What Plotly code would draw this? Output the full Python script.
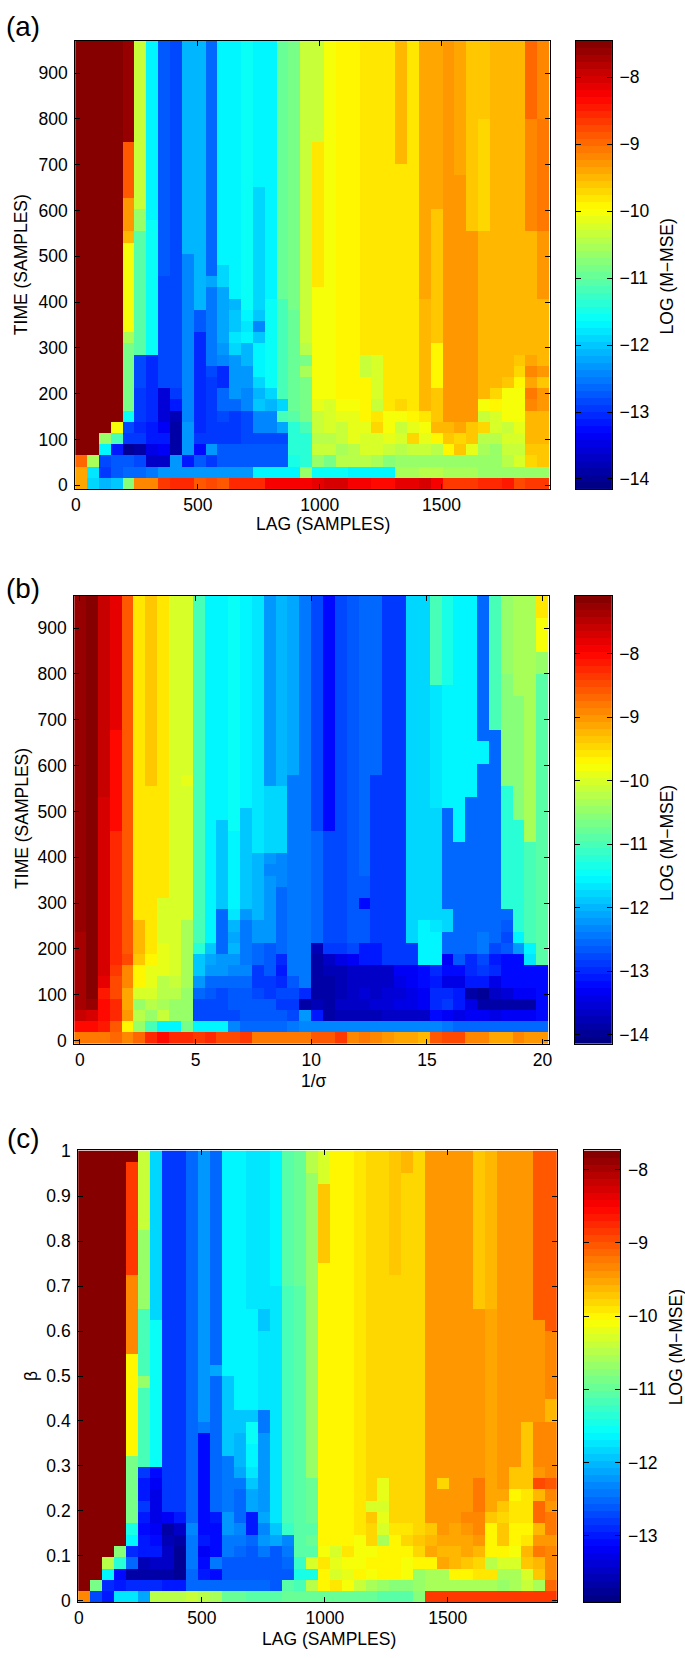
import plotly.graph_objects as go

W, H = 685, 1658
NR = 40

# Panel (a): columns left to right, values bottom to top as -log magnitude; last value extends to the top
A_COLS = [
 [9.4,9.4,9.0,7.5],
 [11.9,11.8,10.5,7.5],
 [12.1,13.0,12.8,11.7,10.6,7.5],
 [12.0,12.7,12.7,13.2,11.2,10.0,7.5],
 [10.8,12.6,12.7,13.95,12.9,12.8,11.6]+[10.9]*6+[10.5]+[10.0]*8+[9.5]+[9.3]*3+[8.9]*5+[7.6],
 [9.2,12.6,12.8,13.9,13.0,13.05,13.0,12.9,12.9]+[12.8]*3+[11.1]*11+[10.7]*2+[10.3],
 [9.2,12.55,13.7,13.5,13.2,13.2,13.1]+[13.1]*5+[11.6]*12+[11.7],
 [8.7,12.3,13.7,13.4,13.2,13.4,13.6,13.6,13.6]+[12.8]*10+[12.75],
 [8.6,12.3,12.3,13.9,13.9,13.9,13.8,13.2,12.9]+[12.8],
 [8.6,12.3,13.2,12.3,12.3,12.3]+[12.4]*15+[12.15],
 [8.9,12.3,12.7,13.3,13.0]+[13.1]*9+[12.7]*2+[12.15],
 [8.75,12.3,13.0,12.3]+[13.0]*6+[12.8]+[12.5]*3+[12.55]*4+[12.2]+[12.6],
 [8.9,12.3,12.7,12.7,13.0,13.0,12.8,12.6,12.6,13.1,13.1,12.4,12.3,12.2]+[12.2]*4+[11.95]*2+[11.7],
 [8.6,12.3,12.7,12.7,12.9,12.9,12.9,12.6,12.3,12.3,12.3,12.3,11.9,11.8,12.0,12.0,12.1,11.65],
 [8.6,12.3,12.7,12.7,12.8,12.8,12.8,12.4,12.4,12.3,12.3,12.1,12.1,11.7,11.75,11.7,11.6],
 [8.6,11.7,12.7,12.7,12.8,12.4,12.4,12.0,12.1,11.9,11.7,11.7,11.7,12.0,12.4,12.0,11.95]+[11.9]*10+[11.7],
 [8.25,11.65,12.7,12.7,12.8,12.4,12.4,12.1,11.9]+[11.6]*8+[11.7],
 [8.25,11.65,12.7,12.7,12.8,12.2,11.2,11.9]+[11.2]*9+[11.0],
 [8.25,11.65,11.5,11.4,11.4,11.4,11.1,11.0]+[11.0]*8+[10.9],
 [8.25,10.7,11.4,11.4,11.4,11.2,10.9,10.9,10.9,10.9,10.5,10.9,10.4,10.35],
 [8.1,11.6,10.7,10.3,10.4,10.3,10.3,10.1]+[10.0]*10+[9.8]*13+[10.35],
 [8.0,11.6,10.9,10.3,10.4,10.2,10.2,10.2,10.0,10.05],
 [8.05,11.6,10.45,10.5,10.3,10.3,10.1,10.0,9.95],
 [8.2,11.65,10.45,10.4,10.1,10.1,10.1,10.0,9.95,9.9],
 [8.25,11.65,10.45,10.2,10.2,10.1,9.9,9.9,9.9,9.9,10.3,10.3,9.8],
 [8.3,11.65,10.5,10.2,10.2,9.75,9.8,10.3,10.25,10.25,10.25,10.25,9.8],
 [8.3,11.65,10.75,10.35,10.15,10.0,10.0,9.8],
 [8.15,10.5,10.7,10.4,10.2,10.3,10.0,9.75]+[9.8]*21+[9.55],
 [8.1,10.5,10.7,10.35,9.7,10.1,9.95,9.8,9.85],
 [8.0,10.4,10.7,10.3,10.1,10.0,9.85]+[9.55]*10+[9.35],
 [8.2,10.4,10.6,10.45,9.9,9.45,9.6,9.6,9.6,9.9,9.9,9.9,9.9]+[9.6]*12+[9.35],
 [8.7,10.5,10.65,9.95,9.6,9.5,9.3],
 [8.7,10.5,10.65,9.6,9.7,9.4,9.3,9.25]+[9.25]*20+[9.35],
 [8.7,10.5,10.65,10.1,9.65,9.6]+[9.25]*17+[9.65],
 [8.6,10.6,10.7,10.5,10.45,9.7,10.3,10.0]+[9.55]*15+[9.7]*10+[9.65],
 [8.6,10.6,10.7,10.6,10.4,10.2,10.2,9.95,9.7,9.55],
 [8.5,10.6,10.45,10.35,10.2,10.3,10.0,10.0,10.0,9.6]+[9.55]*20+[9.5],
 [8.8,10.6,10.2,10.35,10.2,10.1,10.0,10.0,10.0,9.95,9.75,9.6,9.55],
 [8.7,10.6,9.7,9.6,9.45,9.5,9.5,9.2,9.1,9.4,9.2,9.4]+[9.45]*11+[9.15]*10+[9.0],
 [8.7,10.6,9.6,9.6,9.5,9.5,9.5,9.3,9.3,9.6,9.3]+[9.45]*6+[9.3]*6+[9.1]*10+[9.2],
]

# Panel (b)
B_COLS = [
 [8.8,8.0,7.6]+[7.4]*7+[7.3]*20+[7.25],
 [8.8,8.0,7.7,7.3,7.2],
 [8.8,8.1,8.0,8.0,8.1,7.8,7.7]+[7.7]*15+[7.6],
 [8.7,8.6,8.3,8.3,8.5,8.5,8.4]+[8.3]*12+[8.05]*9+[7.85],
 [8.9,9.7,9.0,9.1,9.15,8.9,8.9,8.5,8.6],
 [8.7,10.4,10.2,10.5,10.0,9.7,9.7,9.35,9.2,9.2,9.2]+[9.55]*8+[9.6],
 [8.3,10.95,10.5,10.2,10.0,9.85,9.85,9.7]+[9.6]*15+[9.35],
 [8.05,11.5,10.1,10.3,10.2,10.2,9.9,9.95,9.95,10.05,10.0,10.0,10.0,9.6,9.55],
 [8.2,11.5,10.5,10.4,10.2,10.1,10.05,10.05],
 [8.3,10.7,10.5,10.5,10.4,10.3,10.3,10.3,10.3,10.3,10.35]+[10.0]*12+[9.9,10.05],
 [8.4,11.55,12.8,12.8,12.5,12.2,11.9,11.9,11.2,11.0],
 [8.2,11.55,12.8,12.8,12.7,12.5,12.2,12.1,11.9,11.5],
 [8.5,11.55,12.8,12.8,12.75,12.5,12.25,12.2,12.5,12.5,12.5,12.5]+[11.85]*8+[11.5],
 [8.5,12.3,12.75,12.7,12.7,12.5,12.3,12.2,12.0,12.1,12.0,11.7]+[11.55]*7+[11.45],
 [8.4,12.5,12.7,12.7,12.7,12.5,12.3,12.4,12.4,12.4,12.4,12.2,11.9]+[11.85]*8+[11.5],
 [8.75,12.5,12.7,12.7,12.8,12.9,12.9,12.6,12.6,12.2,12.2,12.05]+[12.0]*5+[11.7],
 [8.8,12.5,12.7,12.7,12.9,12.9,12.7,12.7,12.7]+[12.2]*6+[12.35,12.2]+[11.8]*6+[12.2],
 [8.8,12.5,12.7,12.9,12.8,13.0,13.15,13.0,12.6]+[12.5]*5+[12.3]*3+[11.8]*6+[11.95],
 [8.8,12.45,12.75,12.9,12.8,12.7,12.4]+[12.4]*17+[12.1],
 [8.8,12.3,12.2,13.9,13.0,12.4],
 [8.6,12.3,13.1,13.8,13.9,13.9,13.9,13.9,13.75]+[12.6]*10+[12.75],
 [8.6,12.3,13.85,13.85,13.85,13.85,13.8,13.7,12.9]+[12.8]*10+[13.2],
 [8.4,12.3,13.8,13.7,13.8,13.8,13.8,13.4,12.85,12.75],
 [8.9,12.3,13.8,13.6,13.6,13.7,13.7,13.3,12.8,12.7],
 [8.8,12.3,13.8,13.6,13.5,13.6,13.65,13.15,13.1,12.7,12.7,12.7,13.2,12.7,12.7]+[12.5],
 [8.9,12.3,13.8,13.55,13.6,13.65,13.65,13.1,13.1]+[12.85]*15+[12.5],
 [9.0,12.3,13.7,13.5,13.55,13.6,13.6,12.9,12.85],
 [9.1,12.3,13.7,13.45,13.5,13.4,13.35,12.9,12.85],
 [9.15,12.3,13.6,13.4,13.4,13.3,13.3,12.9,12.85,11.8],
 [9.2,12.3,13.6,13.3,13.3,13.25,13.2,11.6,11.6,11.6,11.6,11.8,11.75],
 [8.6,12.3,13.2,13.0,13.0,13.1,13.0,11.6,11.6,11.6,11.7]+[11.75]*10+[11.7]*11+[10.95],
 [8.5,12.4,13.3,12.9,13.0,13.4,13.2,13.3,12.6,12.6,11.75,11.75]+[12.6]*9+[11.6]*11+[11.3],
 [8.5,12.5,13.4,13.05,13.1,13.45,13.2,12.7]+[12.55]*10+[11.5]*3+[11.5],
 [8.9,12.5,13.3,13.4,13.85,13.1,13.0,12.95,12.5]+[12.6]*13+[11.5],
 [8.9,12.5,13.3,13.9,13.95,13.1,12.85,12.8,12.4,12.4]+[12.5]*15+[11.5]*2+[12.6],
 [9.1,12.5,13.4,13.9,13.6,13.4,13.0,13.1,12.8]+[12.6]*19+[10.95],
 [9.1,12.5,13.35,13.9,13.5,13.2,13.2,13.2,12.7,12.8,12.7,12.55]+[11.2]*11+[10.6]*10+[10.45],
 [8.9,12.5,13.35,13.9,13.35,13.2,13.25,13.2,12.2,11.5]+[11.2]*10+[10.6]*11+[10.35],
 [9.0,12.5,13.3,13.9,13.3,13.25,13.2,11.7,11.5]+[10.95]*9+[10.35]*15+[10.3],
 [9.0,12.5,13.25,13.25,13.25,13.2,13.2]+[10.9]*26+[10.45]*2+[9.75]*3+[9.55],
]

# Panel (c)
C_COLS = [
 [9.3,7.8],
 [12.7,10.9,7.8],
 [13.0,12.9,11.6,10.5,7.8],
 [11.7,12.95,13.1,11.4,10.8,7.8],
 [11.7,12.9,13.7,12.5,12.9,11.6,11.5]+[10.9]*6+[10.05]*9+[9.3]*7+[8.85]*10+[7.8],
 [12.1,12.9,13.7,13.6,13.0,13.0,13.05,13.0,12.85,13.0,13.0,12.8]+[11.2]*7+[10.7]+[11.2]*6+[10.7]*7+[10.35],
 [10.5,12.9,13.7,13.5,13.0,13.1,13.2,13.3,13.25,13.3,13.2,13.1]+[11.55]*13+[11.85],
 [10.45,12.95,13.7,13.5,13.45,13.6,13.7,13.15]+[12.85]*4+[12.8]*26+[12.85],
 [10.45,13.0,13.75,13.8,13.8,13.7,13.5,12.95,12.8],
 [10.4,12.5,12.5,12.45,12.4,12.4,12.35,12.5],
 [10.5,12.5,12.95,13.05,13.15,13.0]+[13.05]*9+[12.4,12.2],
 [10.55,12.5,13.05,12.4,13.05,13.1,13.05,13.0,12.5,12.5]+[12.55]*10+[12.1,12.55],
 [11.0,12.5,12.6,12.6,12.45,12.4,12.2,12.25]+[12.45]*5+[11.95]*7+[11.65],
 [11.0,12.5,12.6,12.65,12.5,12.4,12.35,12.5,12.5,12.5,12.45,12.1,12.0,12.0,12.0,11.95,11.95,11.6],
 [11.05,12.5,12.65,12.65,12.6,12.5,13.0,13.0,12.1,12.1,11.9,11.75,11.65,11.65,11.55,11.55,11.9]+[11.6]*9+[11.7],
 [11.05,12.55,12.6,12.6,12.45,12.25,12.3,12.15]+[12.2]*7+[12.4,12.4]+[11.7]*7+[11.9,11.9,11.7],
 [11.05,12.6,12.65,12.6,12.6,12.1,11.9,11.7]+[11.7]*20+[11.6],
 [11.0,11.1,12.6,12.55,12.4,12.3,11.25,11.15]+[11.15]*20+[11.1],
 [11.0,11.2,11.5,11.3,11.1,11.05,11.1,11.05]+[11.05]*20+[11.0],
 [11.0,10.5,11.5,10.3,11.1,11.0,11.1,11.0,11.0,11.0,11.0,10.65]+[10.65]*26+[10.5],
 [10.95,10.0,10.05,9.95,10.1]+[10.0]*25+[9.75]*7+[10.3],
 [10.95,9.9,10.3,10.2,10.3,10.0,10.05],
 [10.95,10.1,10.15,10.1,9.95,10.0],
 [10.95,10.35,10.05,10.1,10.1,10.1,9.95],
 [11.0,10.6,10.1,10.05,10.1,9.8,9.8,9.7,10.3,9.8],
 [11.1,10.7,10.0,10.0,10.05,10.6,10.3,10.2,10.3,10.2,10.2,9.8],
 [11.05,10.75,10.0,10.0,10.05,10.0,9.95,9.8,9.8]+[9.8]*20+[9.75],
 [11.1,10.8,10.1,10.1,10.0,9.85,9.9]+[9.8]*31+[9.6],
 [10.8,10.65,10.7,10.05,9.8,9.75,9.8,9.85],
 [8.85,10.55,10.55,10.0,9.5,9.6,9.75,9.4],
 [8.85,10.6,10.55,9.55,9.6,9.5,9.4,9.4,9.4,9.4,9.85,9.4],
 [8.85,10.6,10.05,9.6,9.6,9.5,9.55,9.4],
 [8.85,10.6,10.05,9.7,9.55,9.5,9.4,9.35,9.4],
 [8.85,10.6,9.9,9.85,9.6,9.45,9.3,9.3,9.25,9.25,9.25]+[9.4]*15+[9.75],
 [8.85,10.6,9.9,10.5,10.05,10.05,10.05,9.75,9.5,9.5]+[9.5]*16+[9.6],
 [8.85,10.65,10.6,10.3,10.05,9.7,9.7,9.85,9.7,9.5,9.45],
 [8.85,10.6,10.6,10.3,10.1,10.0,10.0,9.9,9.9,10.0,9.75,9.7,9.45],
 [8.85,10.4,10.3,9.7,9.6,9.95,10.0,9.9,9.95,9.95,9.75,9.75,9.75,9.75,9.75,9.75,9.4],
 [8.85,10.6,9.7,9.6,9.2,9.4,9.6,9.1,9.15,9.6,8.95,9.4]+[9.35]*4+[9.4]*9+[9.05]*13+[9.0],
 [8.85,9.1,9.35,9.3,9.3,9.4,9.2,9.2,9.4,9.35,9.0,9.35]+[9.35]*4+[9.65]*2+[9.3]*6+[9.05],
]

X_TICKS_LAG = [0, 500, 1000, 1500]
X_TICKS_SIGMA = [0, 5, 10, 15, 20]
Y_TICKS_TIME = [0, 100, 200, 300, 400, 500, 600, 700, 800, 900]
Y_TICKS_BETA = [0, 0.1, 0.2, 0.3, 0.4, 0.5, 0.6, 0.7, 0.8, 0.9, 1]
Y_TICK_TEXT_BETA = ["0", "0.1", "0.2", "0.3", "0.4", "0.5", "0.6", "0.7", "0.8", "0.9", "1"]
CB_TICKS_AB = [-8, -9, -10, -11, -12, -13, -14]
CB_TICKS_C = [-8, -9, -10, -11, -12, -13]

FONT = "Liberation Sans, Arial, sans-serif"
FS = 17.5
LEVELS = 64


def jet64():
    def ch(v):
        return int(round(255 * max(0.0, min(1.0, 1.5 - abs(v)))))
    out = []
    for i in range(LEVELS):
        t = (i + 0.5) / LEVELS * 4 - 2
        out.append(f"rgb({ch(t - 1)},{ch(t)},{ch(t + 1)})")
    stops = []
    for i, c in enumerate(out):
        stops.append([i / LEVELS, c])
        stops.append([(i + 1) / LEVELS, c])
    return stops


JET = jet64()


def to_z(cols):
    full = [c[:NR] + [c[-1]] * (NR - len(c)) for c in cols]
    return [[-full[j][i] for j in range(len(full))] for i in range(NR)]


panels = [
    dict(cols=A_COLS, px=(72, 552, 32.3, 485), xr=(-3, 1943), yr=(-8, 970), cr=(-14.15, -7.46),
         cb=(578.7, 615.3), cbt=CB_TICKS_AB, xt=X_TICKS_LAG, yt=Y_TICKS_TIME, ytt=None,
         xtitle="LAG (SAMPLES)", ytitle="TIME (SAMPLES)", letter="(a)", ly=18,
         xty=520.5, ytx=17.5, yty=258.5, ctx=671, cty=270, xtx=323),
    dict(cols=B_COLS, px=(71, 551, 592.7, 1045.7), xr=(-0.25, 20.26), yr=(-7.7, 971), cr=(-14.145, -7.09),
         cb=(577.7, 615), cbt=CB_TICKS_AB, xt=X_TICKS_SIGMA, yt=Y_TICKS_TIME, ytt=None,
         xtitle="1/σ", ytitle="TIME (SAMPLES)", letter="(b)", ly=585,
         xty=1083, ytx=17.5, yty=818, ctx=671, cty=842.5, xtx=314),
    dict(cols=C_COLS, px=(75, 559.3, 1153.3, 1610), xr=(-3.5, 1943), yr=(-0.004, 1.002), cr=(-13.915, -7.735),
         cb=(586.7, 623.7), cbt=CB_TICKS_C, xt=X_TICKS_LAG, yt=Y_TICKS_BETA, ytt=Y_TICK_TEXT_BETA,
         xtitle="LAG (SAMPLES)", ytitle="β", letter="(c)", ly=1140.7,
         xty=1647, ytx=27.5, yty=1381, ctx=680, cty=1352, xtx=329),
]

fig = go.Figure()
layout = dict(width=W, height=H, margin=dict(l=0, r=0, t=0, b=0), paper_bgcolor="white",
              plot_bgcolor="white", showlegend=False, font=dict(family=FONT, size=FS, color="black"),
              annotations=[])


def note(text, x, y, size=FS, angle=0):
    layout["annotations"].append(dict(text=text, x=x / W, y=1 - y / H, xref="paper", yref="paper",
                                      xanchor="center", yanchor="middle", showarrow=False, textangle=angle,
                                      borderpad=0, font=dict(family=FONT, size=size, color="black")))


for k, p in enumerate(panels):
    s = "" if k == 0 else str(k + 1)
    cs = str(k + 4)
    l, r, t, b = p["px"]
    dx = (p["xr"][1] - p["xr"][0]) / len(p["cols"])
    dy = (p["yr"][1] - p["yr"][0]) / NR
    fig.add_trace(go.Heatmap(
        z=to_z(p["cols"]), x0=p["xr"][0] + dx / 2, dx=dx, y0=p["yr"][0] + dy / 2, dy=dy,
        coloraxis=f"coloraxis{s}", xaxis=f"x{s}", yaxis=f"y{s}"))
    cmin, cmax = p["cr"]
    dc = (cmax - cmin) / LEVELS
    fig.add_trace(go.Heatmap(
        z=[[cmin + (i + 0.5) * dc] for i in range(LEVELS)], x0=0, dx=1, y0=cmin + dc / 2, dy=dc,
        coloraxis=f"coloraxis{s}", xaxis=f"x{cs}", yaxis=f"y{cs}", hoverinfo="skip"))
    axis = dict(ticks="inside", ticklen=5, tickwidth=1, tickcolor="black", showline=True, mirror="ticks",
                linecolor="black", linewidth=1, showgrid=False, zeroline=False,
                tickfont=dict(family=FONT, size=FS, color="black"))
    layout[f"xaxis{s}"] = dict(axis, domain=[l / W, r / W], range=list(p["xr"]), anchor=f"y{s}",
                               tickvals=p["xt"], ticktext=[str(v) for v in p["xt"]], ticklabelstandoff=0)
    layout[f"yaxis{s}"] = dict(axis, domain=[1 - b / H, 1 - t / H], range=list(p["yr"]), anchor=f"x{s}",
                               tickvals=p["yt"], ticktext=p["ytt"] or [str(v) for v in p["yt"]],
                               ticklabelstandoff=3)
    layout[f"coloraxis{s}"] = dict(colorscale=JET, cmin=cmin, cmax=cmax, showscale=False)
    layout[f"xaxis{cs}"] = dict(domain=[p["cb"][0] / W, p["cb"][1] / W], range=[-0.5, 0.5], anchor=f"y{cs}",
                                showticklabels=False, ticks="", showline=True, mirror=True, linecolor="black",
                                linewidth=1, showgrid=False, zeroline=False)
    layout[f"yaxis{cs}"] = dict(axis, domain=[1 - b / H, 1 - t / H], range=[cmin, cmax], anchor=f"x{cs}",
                                side="right", tickvals=p["cbt"], ticktext=[f"\u2212{-v}" for v in p["cbt"]],
                                ticklabelstandoff=3)
    note(p["letter"], 19.7, p["ly"], size=27.8)
    note(p["xtitle"], p["xtx"], p["xty"])
    note(p["ytitle"], p["ytx"], p["yty"], angle=-90)
    note("LOG (M\u2212MSE)", p["ctx"], p["cty"], angle=-90)

fig.update_layout(**layout)
fig.write_html("out.html", config={"displayModeBar": False},
               post_script="document.body.style.margin='0';")
